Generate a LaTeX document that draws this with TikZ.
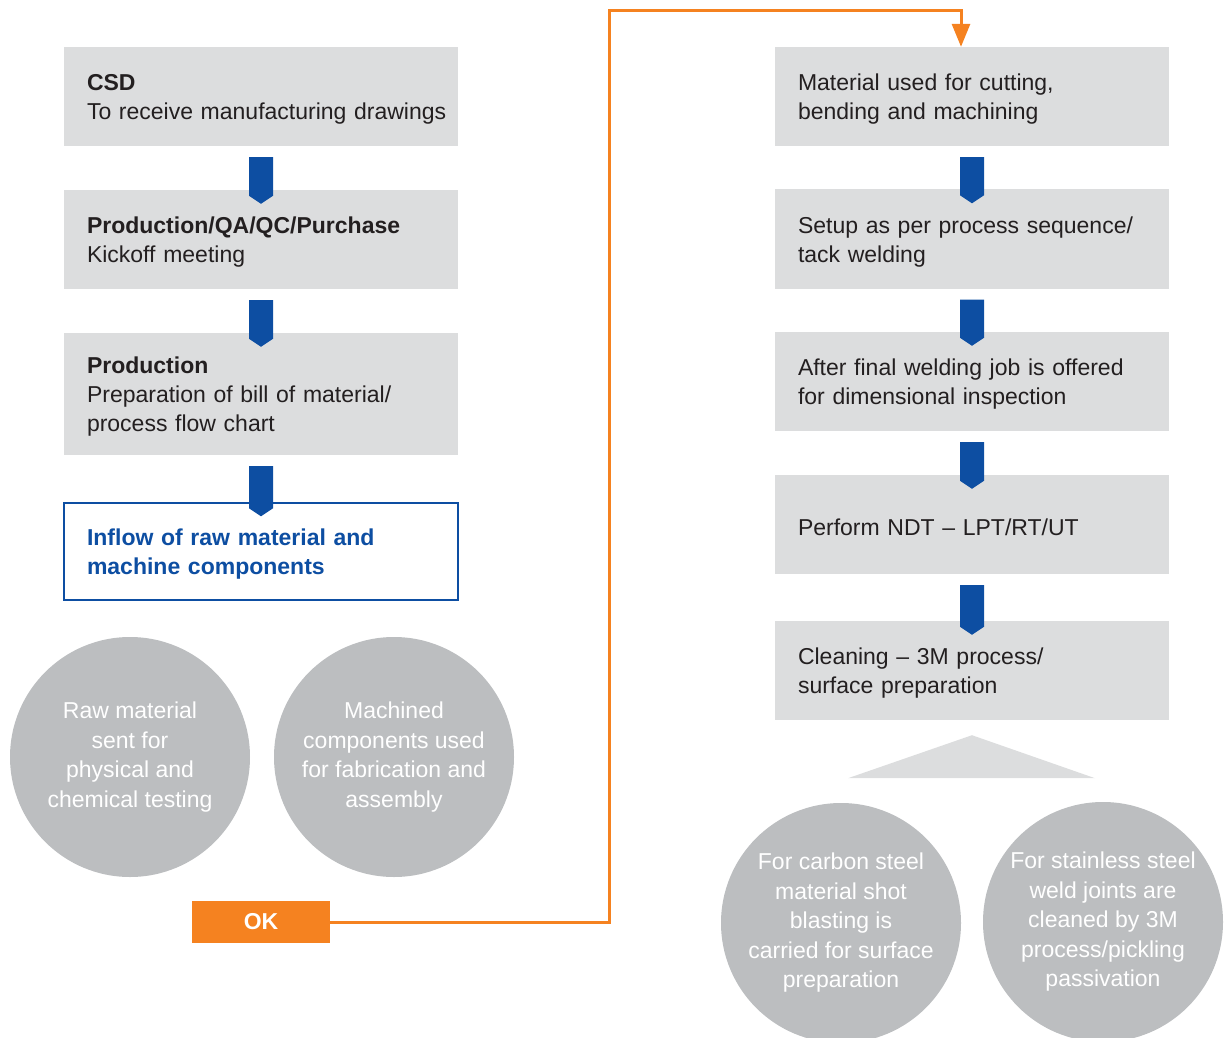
\documentclass[tikz,border=0pt]{standalone}
\usepackage{fontspec}
\setmainfont{Liberation Sans}
\usetikzlibrary{arrows.meta}
\definecolor{boxgray}{HTML}{DCDDDE}
\definecolor{circlegray}{HTML}{BCBEC0}
\definecolor{textgray}{HTML}{231F20}
\definecolor{arrowblue}{HTML}{0D4EA2}
\definecolor{okorange}{HTML}{F58220}
\begin{document}
\begin{tikzpicture}
[x=1pt,y=-1pt,
 stage/.style={fill=boxgray,text width=348pt,inner xsep=23pt,inner ysep=0pt,minimum height=99pt,
   align=left,text=textgray,font=\fontsize{23}{29}\selectfont,
   execute at begin node={\rule{0pt}{22.5pt}}},
 inflow/.style={stage,fill=white,draw=arrowblue,line width=1.5pt,minimum height=97pt,
   text=arrowblue,font=\fontsize{23}{29}\selectfont\bfseries},
 bubble/.style={circle,fill=circlegray,minimum size=240pt,inner sep=0pt,align=center,
   text=white,font=\fontsize{23}{29.5}\selectfont},
 okbox/.style={fill=okorange,minimum width=138pt,minimum height=42pt,inner sep=0pt,
   text=white,font=\fontsize{23}{29}\selectfont\bfseries},
 okline/.style={draw=okorange,line width=3pt,-{Triangle[width=18pt,length=23pt]}}]

\useasboundingbox (0,0) rectangle (1224,1038);

\node (l1) at (261,96.5) [stage] {\textbf{CSD}\\\mbox{To receive manufacturing drawings}};
\node (l2) at (261,239.5) [stage] {\textbf{Production/QA/QC/Purchase}\\Kickoff meeting};
\node (l3) at (261,394) [stage,minimum height=122pt] {\textbf{Production}\\Preparation of bill of material/\\process flow chart};
\node (l4) at (261,551.5) [inflow] {Inflow of raw material and\\machine components};

\node (r1) at (972,96.5) [stage] {Material used for cutting,\\bending and machining};
\node (r2) at (972,239) [stage] {Setup as per process sequence/\\tack welding};
\node (r3) at (972,381.5) [stage] {After final welding job is offered\\for dimensional inspection};
\node (r4) at (972,524.5) [stage] {Perform NDT -- LPT/RT/UT};
\node (r5) at (972,670.5) [stage] {Cleaning -- 3M process/\\surface preparation};

\foreach \a/\b in {l1/l2,l2/l3,l3/l4,r1/r2,r2/r3,r3/r4,r4/r5}
  \fill[arrowblue] ([xshift=-12pt,yshift=-11pt]\a.south) -- ([xshift=12pt,yshift=-11pt]\a.south)
    -- ([xshift=12pt,yshift=-6pt]\b.north) -- ([yshift=-14pt]\b.north)
    -- ([xshift=-12pt,yshift=-6pt]\b.north) -- cycle;

\node (raw) at (130,757) [bubble] {Raw material\\sent for\\physical and\\chemical testing};
\node (machined) at (394,757) [bubble] {Machined\\components used\\for fabrication and\\assembly};

\fill[boxgray] ([yshift=-15pt]r5.south) -- ([xshift=-124pt,yshift=-58pt]r5.south)
  -- ([xshift=123pt,yshift=-58pt]r5.south) -- cycle;

\node (carbon) at (841,923) [bubble] {For carbon steel\\material shot\\blasting is\\carried for surface\\preparation};
\node (stainless) at (1103,922) [bubble] {For stainless steel\\weld joints are\\cleaned by 3M\\process/pickling\\passivation};

\node (ok) at (261,922) [okbox] {OK};
\draw[okline] (ok.east) -| (609,11) -| ([xshift=-11pt]r1.north);
\end{tikzpicture}
\end{document}
